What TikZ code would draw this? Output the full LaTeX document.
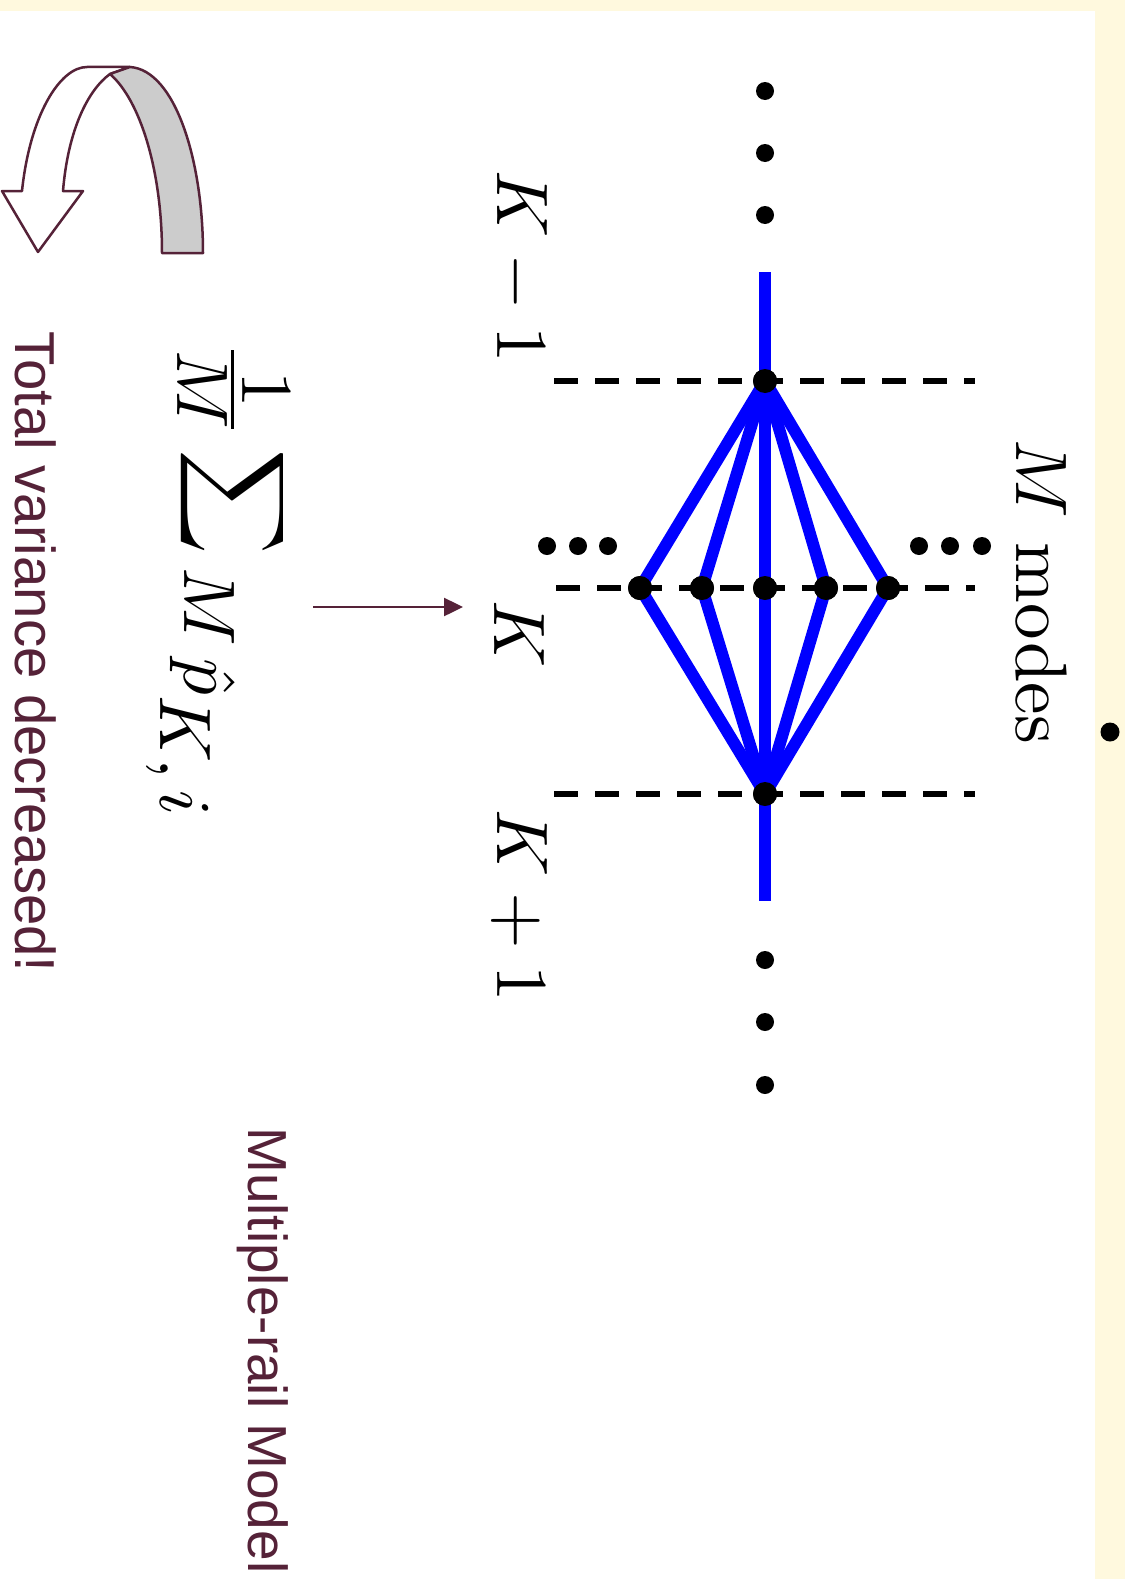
\documentclass[tikz,border=0pt]{standalone}
\usepackage{fontspec}
\newfontfamily\arialfont{Liberation Sans}
\usetikzlibrary{arrows.meta}
\definecolor{mroon}{RGB}{85,34,56}
\definecolor{bgyel}{RGB}{255,249,222}
\definecolor{grayfill}{RGB}{204,204,204}
\begin{document}
\begin{tikzpicture}[x=1pt,y=-1pt,
  bigdot/.style={circle,fill=black,inner sep=0pt,minimum size=24pt},
  smalldot/.style={circle,fill=black,inner sep=0pt,minimum size=18pt},
  rail/.style={draw=blue,line width=12pt},
  levelline/.style={draw=black,line width=5.5pt,dash pattern=on 24pt off 17pt},
  mathlab/.style={rotate=-90,scale=7.3,inner sep=0pt},
  sanslab/.style={rotate=-90,text=mroon,inner sep=0pt,font=\arialfont\fontsize{56.3}{60}\selectfont},
  uturn/.style={draw=mroon,line width=2.5pt,line join=round}]
\fill[bgyel] (0,0) rectangle (1125,1579);
\useasboundingbox (0,0) rectangle (1125,1579);
\fill[white] (0,11) rectangle (1095,1579);

% level lines
\coordinate (l1a) at (554,381); \coordinate (l1b) at (975,381);
\coordinate (l2a) at (556,588); \coordinate (l2b) at (975,588);
\coordinate (l3a) at (554,794); \coordinate (l3b) at (975,794);
\draw[levelline] (l1a) -- (l1b);
\draw[levelline] (l2a) -- (l2b);
\draw[levelline] (l3a) -- (l3b);

% nodes
\node[bigdot] (top) at (765,381) {};
\node[bigdot] (bot) at (765,794) {};
\node[bigdot] (m1) at (640,588) {};
\node[bigdot] (m2) at (702,588) {};
\node[bigdot] (m3) at (765,588) {};
\node[bigdot] (m4) at (826,588) {};
\node[bigdot] (m5) at (888,588) {};
\coordinate (vt) at (765,272);
\coordinate (vb) at (765,901);

% rails
\draw[rail] (vt) -- (vb);
\foreach \m in {m1,m2,m4,m5}{
  \draw[rail] (top.center) -- (\m.center);
  \draw[rail] (\m.center) -- (bot.center);
}
% redraw nodes on top
\foreach \n/\x/\y in {top/765/381,bot/765/794,m1/640/588,m2/702/588,m3/765/588,m4/826/588,m5/888/588}{
  \fill (\x,\y) circle[radius=12pt];
}

% ellipsis dots
\node[smalldot] (d1) at (765,91) {};
\node[smalldot] (d2) at (765,153) {};
\node[smalldot] (d3) at (765,215) {};
\node[smalldot] (d4) at (765,960) {};
\node[smalldot] (d5) at (765,1022) {};
\node[smalldot] (d6) at (765,1085) {};
\node[smalldot] (e1) at (547,546) {};
\node[smalldot] (e2) at (578,546) {};
\node[smalldot] (e3) at (608,546) {};
\node[smalldot] (e4) at (919,546) {};
\node[smalldot] (e5) at (950,546) {};
\node[smalldot] (e6) at (982,546) {};

% bullet
\node[circle,fill=black,inner sep=0pt,minimum size=19pt] (bul) at (1110,732) {};

% labels
\node[mathlab] (kminus) at (519,267) {$K-1$};
\node[mathlab] (kmid) at (519,634) {$K$};
\node[mathlab] (kplus) at (519,906) {$K+1$};
\node[mathlab] (modes) at (1041,592) {$M$ modes};
\node[mathlab,anchor=base west] (formula) at (214,340)
  {$\frac{\textstyle 1}{\textstyle M}\displaystyle\sum\raisebox{-4pt}{$M\,\hat{p}_{\textstyle K,i}$}$};

% arrow
\coordinate (arrS) at (313,607);
\coordinate (arrE) at (463,607);
\draw[mroon,line width=2.5pt,-{Triangle[length=19pt,width=18pt]}] (arrS) -- (arrE);

% texts
\node[sanslab,anchor=base west] (total) at (15,331) {Total variance decreased!};
\node[sanslab,anchor=base west,font=\arialfont\fontsize{55}{60}\selectfont] (model) at (248,1127) {Multiple-rail Model};

% U-turn arrow
\draw[uturn,fill=white] (2,191) -- (22,191) .. controls (30,115) and (60,67) .. (87,67)
  -- (130,67) -- (110,74) .. controls (88,90) and (68,130) .. (63,191)
  -- (83,191) -- (38,252) -- cycle;
\draw[uturn,fill=grayfill] (110,74) -- (130,67) .. controls (175,70) and (203,160) .. (203,253)
  -- (162,253) .. controls (162,170) and (140,100) .. (110,74) -- cycle;
\end{tikzpicture}
\end{document}
